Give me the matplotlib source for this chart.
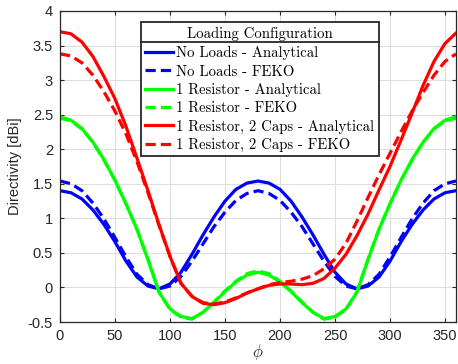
import numpy as np
import matplotlib
matplotlib.use('Agg')
import matplotlib.pyplot as plt
from matplotlib.lines import Line2D
from matplotlib.ticker import FuncFormatter, MultipleLocator

plt.rcParams['font.family'] = ['Liberation Sans', 'DejaVu Sans']
plt.rcParams['axes.unicode_minus'] = False
plt.rcParams['mathtext.fontset'] = 'cm'

# azimuth angle (deg)
phi = np.arange(0, 361, 10)

# directivity [dBi]
no_loads_an = [1.40, 1.37, 1.28, 1.12, 0.91, 0.66, 0.38, 0.15, 0.02, -0.02,
               0.05, 0.22, 0.48, 0.76, 1.02, 1.25, 1.42, 1.51, 1.54, 1.51,
               1.42, 1.25, 1.02, 0.76, 0.48, 0.22, 0.05, -0.02, 0.02, 0.15,
               0.38, 0.66, 0.91, 1.12, 1.28, 1.37, 1.40]
no_loads_feko = [1.54, 1.50, 1.40, 1.22, 0.99, 0.72, 0.44, 0.19, 0.04, -0.02,
                 0.02, 0.16, 0.38, 0.63, 0.88, 1.09, 1.26, 1.36, 1.40, 1.36,
                 1.26, 1.09, 0.88, 0.63, 0.38, 0.16, 0.02, -0.02, 0.04, 0.19,
                 0.44, 0.72, 0.99, 1.22, 1.40, 1.50, 1.54]
res_an = [2.47, 2.42, 2.30, 2.10, 1.85, 1.55, 1.21, 0.84, 0.40, -0.07,
          -0.31, -0.42, -0.45, -0.36, -0.22, -0.06, 0.08, 0.18, 0.22, 0.18,
          0.08, -0.06, -0.22, -0.36, -0.45, -0.42, -0.31, -0.07, 0.40, 0.84,
          1.21, 1.55, 1.85, 2.10, 2.30, 2.42, 2.47]
res_feko = [2.45, 2.41, 2.29, 2.10, 1.84, 1.55, 1.21, 0.84, 0.41, -0.06,
            -0.32, -0.43, -0.46, -0.36, -0.21, -0.05, 0.09, 0.20, 0.24, 0.20,
            0.09, -0.05, -0.21, -0.36, -0.46, -0.43, -0.32, -0.06, 0.41, 0.84,
            1.21, 1.55, 1.84, 2.10, 2.29, 2.41, 2.45]
res_caps_an = [3.70, 3.67, 3.55, 3.34, 3.05, 2.73, 2.33, 1.87, 1.40, 0.91,
               0.45, 0.06, -0.13, -0.23, -0.25, -0.22, -0.16, -0.08, -0.02, 0.03,
               0.05, 0.05, 0.04, 0.06, 0.13, 0.28, 0.48, 0.75, 1.06, 1.41,
               1.75, 2.13, 2.52, 2.92, 3.27, 3.53, 3.68]
res_caps_feko = [3.38, 3.35, 3.25, 3.07, 2.83, 2.55, 2.22, 1.82, 1.37, 0.90,
                 0.45, 0.06, -0.13, -0.22, -0.24, -0.21, -0.15, -0.08, -0.02, 0.04,
                 0.07, 0.09, 0.12, 0.17, 0.27, 0.41, 0.64, 0.96, 1.30, 1.63,
                 1.94, 2.25, 2.55, 2.82, 3.07, 3.27, 3.38]

labels = ['No Loads - Analytical', 'No Loads - FEKO',
          '1 Resistor - Analytical', '1 Resistor - FEKO',
          '1 Resistor, 2 Caps - Analytical', '1 Resistor, 2 Caps - FEKO']

fig = plt.figure(figsize=(4.58, 3.64), dpi=100)
ax = fig.add_axes([60 / 458, 42 / 364, 396 / 458, 311 / 364])

dash = (0, (3.2, 1.6))
lw = 2.3
ax.plot(phi, no_loads_an, color='#0000ff', lw=lw, label=labels[0])
ax.plot(phi, no_loads_feko, color='#0000ff', lw=lw, ls=dash, label=labels[1])
ax.plot(phi, res_an, color='#00ff00', lw=lw, label=labels[2])
ax.plot(phi, res_feko, color='#00ff00', lw=lw, ls=dash, label=labels[3])
ax.plot(phi, res_caps_an, color='#ff0000', lw=lw, label=labels[4])
ax.plot(phi, res_caps_feko, color='#ff0000', lw=lw, ls=dash, label=labels[5])

ax.set_xlim(0, 360)
ax.set_ylim(-0.5, 4)
ax.xaxis.set_major_locator(MultipleLocator(50))
ax.yaxis.set_major_locator(MultipleLocator(0.5))
ax.yaxis.set_major_formatter(FuncFormatter(lambda v, p: '%g' % v))
ax.grid(True, color='#dedede', lw=0.8)
ax.set_axisbelow(True)
for s in ax.spines.values():
    s.set_color('#262626')
    s.set_linewidth(0.9)
ax.tick_params(direction='in', length=3, width=0.8, colors='#262626',
               labelsize=10.5, top=True, right=True, pad=5)

ax.set_ylabel('Directivity [dBi]', fontsize=10.5, color='#262626', labelpad=4)
ax.set_xlabel(r'$\phi$', fontsize=12, color='#262626', labelpad=-1)

leg = ax.legend(loc='upper left', bbox_to_anchor=(141 / 458, 1 - 22 / 364),
                bbox_transform=fig.transFigure, borderaxespad=0,
                title='Loading Configuration', fancybox=False, framealpha=1,
                edgecolor='#262626', prop={'family': 'cmr10', 'size': 10.6},
                title_fontproperties={'family': 'cmr10', 'size': 10.6},
                handlelength=1.85, handletextpad=0.25, labelspacing=0.3,
                borderpad=0.3)
leg.get_frame().set_linewidth(1.3)
leg._legend_box.sep = 4

# separator line under the legend title
fig.canvas.draw()
bb = leg.get_window_extent()
tb = leg.get_title().get_window_extent()
ysep = (tb.y0 - 1) / fig.bbox.height
fig.add_artist(Line2D([bb.x0 / fig.bbox.width, bb.x1 / fig.bbox.width], [ysep, ysep],
                      transform=fig.transFigure, color='#262626', lw=1.3, zorder=10))

fig.savefig('out.png', dpi=100)
